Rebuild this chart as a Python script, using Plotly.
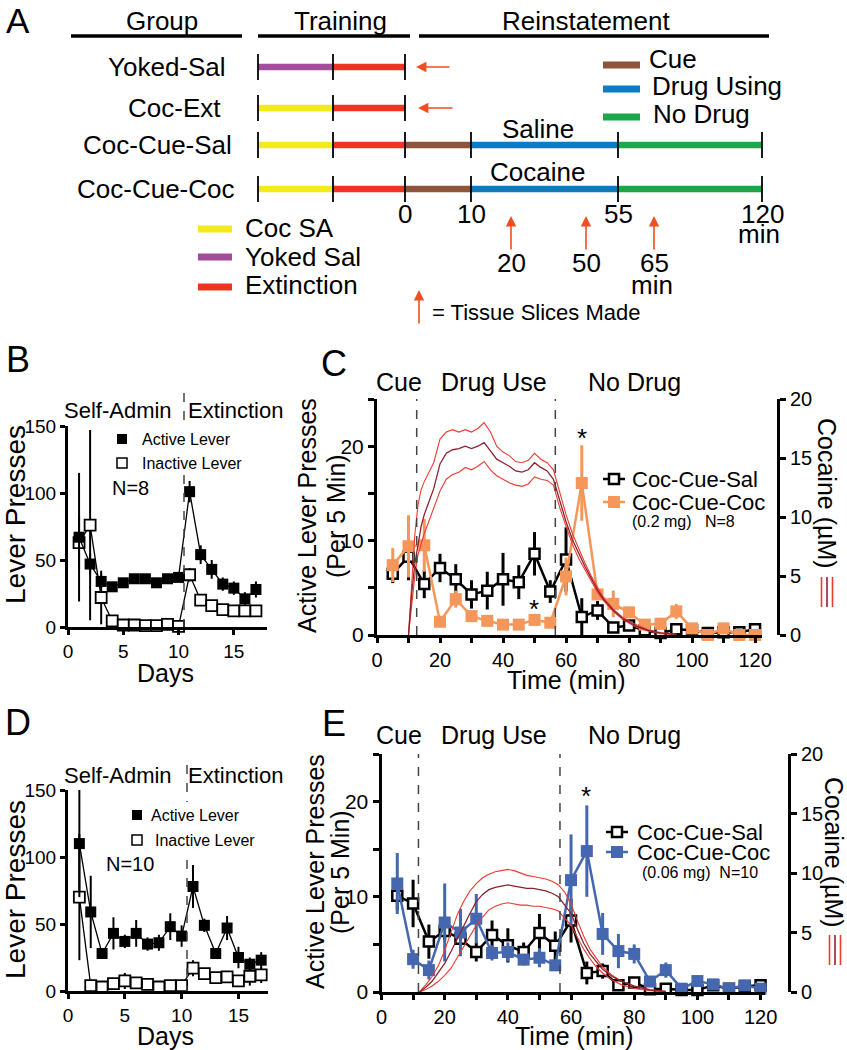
import plotly.graph_objects as go

W, H = 847, 1050
FONT = "Liberation Sans, Arial, sans-serif"

# ---------------- Panel A (schematic) ----------------
A_groups = ["Yoked-Sal", "Coc-Ext", "Coc-Cue-Sal", "Coc-Cue-Coc"]
A_phases = [
    ["Yoked Sal", "Extinction"],
    ["Coc SA", "Extinction"],
    ["Coc SA", "Extinction", "Cue", "Drug Using", "No Drug"],
    ["Coc SA", "Extinction", "Cue", "Drug Using", "No Drug"],
]
A_phase_colors = {
    "Coc SA": "#F4E91B", "Yoked Sal": "#A24C9B", "Extinction": "#EE3524",
    "Cue": "#8E553A", "Drug Using": "#0A7CC1", "No Drug": "#1AA84B",
}
A_left_legend = ["Coc SA", "Yoked Sal", "Extinction"]
A_right_legend = ["Cue", "Drug Using", "No Drug"]
A_reinst_ticks = ["0", "10", "55", "120"]
A_slice_times = ["20", "50", "65"]
A_reinst_labels = ["Saline", "Cocaine"]

# ---------------- Panel B ----------------
B_days = list(range(1, 18))
B_active = [67, 47, 34, 30, 33, 36, 36, 33, 36, 37, 101, 54, 43, 32, 29, 21, 28]
B_active_err = [48, 8, 5, 3, 3, 3, 3, 3, 3, 3, 8, 7, 7, 5, 5, 5, 6]
B_inactive = [63, 76, 22, 4.5, 1.5, 1.5, 1, 1, 2, 0.5, 39, 20, 16, 13, 12, 12, 12]
B_inactive_err = [20, 71, 20, 2, 1, 1, 1, 1, 1, 0.5, 5, 4, 3, 2, 2, 2, 2]

# ---------------- Panel D ----------------
D_days = list(range(1, 18))
D_active = [110, 59, 28, 43, 37, 43, 35, 36, 48, 41, 78, 49, 28, 47, 25, 20, 23]
D_active_err = [40, 27, 4, 12, 5, 10, 5, 6, 10, 8, 16, 5, 4, 9, 8, 5, 6]
D_inactive = [70, 4, 3, 5.5, 7.5, 6, 5, 3, 4, 4, 17, 13, 10, 10.5, 7.5, 11, 12]
D_inactive_err = [47, 1, 1, 3, 6, 3, 2, 1, 1, 1, 6, 3, 2, 2, 3, 7, 6]

# ---------------- Panel C ----------------
C_time = [5, 10, 15, 20, 25, 30, 35, 40, 45, 50, 55, 60, 65, 70, 75, 80, 85, 90, 95, 100, 105, 110, 115, 120]
C_sal = [6.5, 8.3, 5.4, 7.1, 5.9, 4.3, 4.7, 5.9, 5.6, 8.6, 4.6, 8.0, 1.9, 2.6, 0.8, 1.0, 0.5, 0.2, 0.6, 0.5, 0.2, 0.3, 0.3, 0.6]
C_sal_err = [1.0, 2.5, 1.5, 1.5, 1.6, 1.5, 2.0, 2.8, 1.8, 2.3, 1.2, 3.4, 2.0, 1.0, 0.5, 0.5, 0.3, 0.3, 0.3, 0.2, 0.2, 0.2, 0.2, 0.2]
C_coc = [7.4, 9.4, 9.5, 1.4, 3.8, 2.0, 1.5, 1.1, 1.1, 1.6, 1.3, 6.2, 16.1, 4.3, 3.3, 2.4, 1.1, 1.2, 2.5, 0.7, 0.0, 0.7, 0.0, 0.0]
C_coc_err = [1.8, 3.3, 2.8, 0.4, 0.9, 0.4, 0.3, 0.3, 0.3, 0.3, 0.3, 2.0, 4.0, 0.6, 1.4, 0.6, 0.3, 0.5, 0.8, 0.3, 0.2, 0.4, 0.2, 0.2]
C_phase_bounds = [12.6, 56.6]
C_conc_t = [10, 11, 12, 13, 14, 15, 16, 18, 20, 22, 24, 26, 28, 30, 32, 34, 36, 38, 40, 42, 44,
            46, 48, 50, 52, 54, 56, 58, 60, 62, 64, 66, 68, 70, 72, 75, 78, 82, 86, 90, 95]
C_conc_mid = [0, 3.5, 6.0, 7.8, 9.2, 10.2, 10.9, 12.4, 14.5, 15.4, 15.7, 15.8, 16.0, 15.8, 16.0, 16.3, 15.6, 14.9, 14.6, 14.3, 13.9,
              13.8, 14.0, 14.6, 14.2, 13.9, 13.2, 11.3, 9.6, 8.1, 6.9, 5.8, 4.8, 3.8, 3.0, 2.1, 1.4, 0.8, 0.4, 0.15, 0.05]
C_conc_up = [0, 4.5, 8.5, 11.0, 12.3, 13.0, 13.5, 14.6, 16.6, 17.2, 17.4, 17.2, 17.4, 17.2, 17.5, 18.0, 17.2, 16.0, 15.5, 15.2, 14.7,
             14.6, 14.8, 15.4, 14.9, 14.6, 14.0, 12.0, 10.2, 8.6, 7.3, 6.1, 5.0, 4.0, 3.1, 2.2, 1.5, 0.9, 0.45, 0.2, 0.05]
C_conc_lo = [0, 2.5, 5.0, 6.8, 7.8, 8.6, 9.3, 10.8, 12.2, 13.2, 13.6, 13.8, 14.2, 14.0, 14.3, 14.7, 14.0, 13.5, 13.2, 12.9, 12.7,
             12.6, 12.8, 13.4, 13.2, 13.1, 12.7, 10.8, 9.2, 7.7, 6.5, 5.5, 4.5, 3.6, 2.9, 2.0, 1.3, 0.7, 0.35, 0.1, 0.05]

# ---------------- Panel E ----------------
E_time = [5, 10, 15, 20, 25, 30, 35, 40, 45, 50, 55, 60, 65, 70, 75, 80, 85, 90, 95, 100, 105, 110, 115, 120]
E_sal = [10.1, 9.3, 5.3, 6.4, 5.6, 4.2, 6.0, 4.9, 4.2, 6.2, 4.85, 7.5, 2.0, 2.2, 0.7, 1.0, 0.3, 0.35, 0.2, 0.2, 0.7, 0.35, 0.6, 0.7]
E_sal_err = [1.5, 2.5, 1.8, 1.0, 1.0, 1.0, 1.5, 1.8, 1.0, 2.0, 1.5, 2.3, 1.2, 0.8, 0.3, 0.3, 0.2, 0.2, 0.2, 0.2, 0.2, 0.2, 0.2, 0.2]
E_coc = [11.4, 3.45, 2.3, 7.3, 6.25, 7.7, 4.1, 4.2, 3.4, 3.6, 2.8, 11.75, 14.8, 6.1, 4.3, 4.0, 1.1, 2.3, 0.35, 1.15, 0.8, 0.35, 0.7, 0.35]
E_coc_err = [3.2, 1.0, 1.0, 4.1, 2.5, 2.6, 0.8, 1.0, 0.6, 1.0, 0.5, 4.8, 4.8, 2.2, 1.8, 1.0, 0.4, 0.8, 0.2, 0.3, 0.3, 0.2, 0.3, 0.2]
E_phase_bounds = [11.7, 56.5]
E_conc_t = [12, 14, 16, 18, 20, 22, 24, 26, 28, 30, 32, 34, 36, 38, 40, 42, 44, 46, 48, 50, 52, 54, 56, 58, 60,
            62, 64, 66, 68, 70, 73, 76, 80, 85, 90]
E_conc_mid = [0, 0.4, 0.9, 1.6, 2.4, 3.4, 4.5, 5.6, 6.6, 7.6, 8.2, 8.6, 8.8, 8.9, 9.0, 8.9, 8.8, 8.7, 8.7, 8.6, 8.5, 8.3, 8.0, 7.3, 6.6,
              5.3, 4.1, 3.2, 2.5, 1.9, 1.3, 0.9, 0.5, 0.15, 0.05]
E_conc_up = [0, 0.6, 1.3, 2.2, 3.5, 5.0, 6.5, 7.6, 8.5, 9.1, 9.6, 9.9, 10.1, 10.2, 10.3, 10.2, 10.0, 9.8, 9.7, 9.6, 9.5, 9.3, 9.0, 8.4, 7.4,
             6.0, 4.7, 3.6, 2.8, 2.1, 1.4, 0.9, 0.5, 0.2, 0.05]
E_conc_lo = [0, 0.2, 0.5, 0.9, 1.4, 2.0, 2.9, 3.8, 4.7, 5.6, 6.3, 6.9, 7.2, 7.4, 7.5, 7.4, 7.3, 7.3, 7.2, 7.2, 7.1, 7.0, 6.8, 6.2, 5.6,
             4.6, 3.6, 2.8, 2.1, 1.6, 1.0, 0.6, 0.3, 0.1, 0.02]

ORANGE = "#F5965A"
BLUE = "#4467AF"
RED = "#EE3B30"
DARKRED = "#8B2232"
ARROW = "#F04E23"

fig = go.Figure()


def dx(a, b):
    return [a / W, b / W]


def dy(top, bottom):
    return [1 - bottom / H, 1 - top / H]


def axis(**kw):
    d = dict(showline=True, linewidth=3, linecolor="black", ticks="outside", ticklen=5,
             tickwidth=2.5, tickcolor="black", showgrid=False, zeroline=False, automargin=False,
             tickfont=dict(family=FONT, size=19, color="black"), fixedrange=True)
    d.update(kw)
    return d


def every_other(vals, step):
    return [str(v) if v % step == 0 else "" for v in vals]


cx_ticks = list(range(0, 121, 10))
cy_ticks = [0, 5, 10, 15, 20, 25]

fig.update_layout(
    template="none",
    width=W, height=H, autosize=False,
    margin=dict(l=0, r=0, t=0, b=0, pad=0, autoexpand=False),
    paper_bgcolor="white", plot_bgcolor="rgba(0,0,0,0)",
    showlegend=False, hovermode=False,
    font=dict(family=FONT, color="black"),
    # B
    xaxis=axis(domain=dx(68, 267), range=[0, 18.0], tickvals=[0, 5, 10, 15], anchor="y"),
    yaxis=axis(domain=dy(426, 627), range=[0, 150], tickvals=[0, 50, 100, 150], anchor="x"),
    # D
    xaxis2=axis(domain=dx(68, 268), range=[0, 17.6], tickvals=[0, 5, 10, 15], anchor="y2"),
    yaxis2=axis(domain=dy(790, 991), range=[0, 150], tickvals=[0, 50, 100, 150], anchor="x2"),
    # C
    xaxis3=axis(domain=dx(377, 762), range=[0, 122.2], tickvals=cx_ticks,
                ticktext=every_other(cx_ticks, 20), anchor="y3", ticklen=5,
                tickfont=dict(family=FONT, size=20, color="black")),
    yaxis3=axis(domain=dy(399, 635), range=[0, 25], tickvals=cy_ticks,
                ticktext=every_other(cy_ticks, 10), anchor="x3", ticklen=6,
                tickfont=dict(family=FONT, size=21, color="black")),
    yaxis4=axis(overlaying="y3", side="right", anchor="free", position=778 / W,
                range=[0, 20], tickvals=[0, 5, 10, 15, 20], ticklen=6,
                tickfont=dict(family=FONT, size=20, color="black")),
    # E
    xaxis4=axis(domain=dx(381.5, 765), range=[0, 121.4], tickvals=cx_ticks,
                ticktext=every_other(cx_ticks, 20), anchor="y5", ticklen=5,
                tickfont=dict(family=FONT, size=20, color="black")),
    yaxis5=axis(domain=dy(754, 992), range=[0, 25], tickvals=cy_ticks,
                ticktext=every_other(cy_ticks, 10), anchor="x4", ticklen=6,
                tickfont=dict(family=FONT, size=21, color="black")),
    yaxis6=axis(overlaying="y5", side="right", anchor="free", position=789 / W,
                range=[0, 20], tickvals=[0, 5, 10, 15, 20], ticklen=6,
                tickfont=dict(family=FONT, size=20, color="black")),
    # pixel canvas for decorations
    xaxis5=dict(domain=[0, 1], range=[0, W], visible=False, fixedrange=True, anchor="y7",
                automargin=False, showgrid=False, zeroline=False),
    yaxis7=dict(domain=[0, 1], range=[H, 0], visible=False, fixedrange=True, anchor="x5",
                automargin=False, showgrid=False, zeroline=False),
)


def lever_traces(days, act, act_err, inact, inact_err, xa, ya):
    fig.add_trace(go.Scatter(
        x=days, y=inact, xaxis=xa, yaxis=ya, mode="lines+markers", cliponaxis=False,
        line=dict(color="black", width=1.3),
        marker=dict(symbol="square", size=11, color="white", line=dict(color="black", width=1.8)),
        error_y=dict(type="data", array=inact_err, width=0, thickness=2, color="black")))
    fig.add_trace(go.Scatter(
        x=days, y=act, xaxis=xa, yaxis=ya, mode="lines+markers", cliponaxis=False,
        line=dict(color="black", width=1.3),
        marker=dict(symbol="square", size=11, color="black"),
        error_y=dict(type="data", array=act_err, width=0, thickness=2, color="black")))


lever_traces(B_days, B_active, B_active_err, B_inactive, B_inactive_err, "x", "y")
lever_traces(D_days, D_active, D_active_err, D_inactive, D_inactive_err, "x2", "y2")


def reinst_traces(t, sal, sal_err, coc, coc_err, ct, cmid, cup, clo, col, xa, ya, ya2):
    for arr, c, w in ((clo, RED, 1.1), (cup, RED, 1.1), (cmid, DARKRED, 1.3)):
        fig.add_trace(go.Scatter(x=ct, y=arr, xaxis=xa, yaxis=ya2, mode="lines",
                                 line=dict(color=c, width=w), hoverinfo="skip"))
    fig.add_trace(go.Scatter(
        x=t, y=sal, xaxis=xa, yaxis=ya, mode="lines+markers", cliponaxis=False,
        line=dict(color="black", width=2.5),
        marker=dict(symbol="square", size=10, color="white", line=dict(color="black", width=2.5)),
        error_y=dict(type="data", array=sal_err, width=0, thickness=3, color="black")))
    fig.add_trace(go.Scatter(
        x=t, y=coc, xaxis=xa, yaxis=ya, mode="lines+markers", cliponaxis=False,
        line=dict(color=col, width=2.5),
        marker=dict(symbol="square", size=12, color=col),
        error_y=dict(type="data", array=coc_err, width=0, thickness=3, color=col)))


reinst_traces(C_time, C_sal, C_sal_err, C_coc, C_coc_err, C_conc_t, C_conc_mid, C_conc_up,
              C_conc_lo, ORANGE, "x3", "y3", "y4")
reinst_traces(E_time, E_sal, E_sal_err, E_coc, E_coc_err, E_conc_t, E_conc_mid, E_conc_up,
              E_conc_lo, BLUE, "x4", "y5", "y6")

# phase dashed lines for C and E
for xb in C_phase_bounds:
    fig.add_shape(type="line", xref="x3", yref="y3", x0=xb, x1=xb, y0=0, y1=25,
                  line=dict(color="#444", width=1.5, dash="dash"))
for xb in E_phase_bounds:
    fig.add_shape(type="line", xref="x4", yref="y5", x0=xb, x1=xb, y0=0, y1=25,
                  line=dict(color="#444", width=1.5, dash="dash"))

# B / D dashed lines (pixel canvas, with a gap behind the legend)
for x0, segs in ((184, [(393, 420), (475, 627)]), (187, [(765, 802), (860, 991)])):
    for a, b in segs:
        fig.add_shape(type="line", xref="x5", yref="y7", x0=x0, x1=x0, y0=a, y1=b,
                      line=dict(color="#444", width=1.5, dash="dash"))


def T(text, x, y, size, xa="center", ya="middle", angle=0, color="black", pad=1):
    fig.add_annotation(text=text, x=x, y=y, xref="x5", yref="y7", showarrow=False,
                       xanchor=xa, yanchor=ya, textangle=angle, borderpad=pad,
                       font=dict(family=FONT, size=size, color=color))


def arrow(hx, hy, tx, ty):
    fig.add_annotation(text="", x=hx, y=hy, ax=tx, ay=ty, xref="x5", yref="y7",
                       axref="x5", ayref="y7", showarrow=True, arrowhead=2,
                       arrowsize=1.3, arrowwidth=1.6, arrowcolor=ARROW, standoff=0)


def seg(x0, x1, y, color, width):
    fig.add_shape(type="line", xref="x5", yref="y7", x0=x0, x1=x1, y0=y, y1=y,
                  line=dict(color=color, width=width))


def vseg(x, y0, y1, color="black", width=2):
    fig.add_shape(type="line", xref="x5", yref="y7", x0=x, x1=x, y0=y0, y1=y1,
                  line=dict(color=color, width=width))


# ---------------- Panel A drawing ----------------
T("A", 18, 0, 35, ya="top", pad=0)
for txt, cx in zip(["Group", "Training", "Reinstatement"], [162, 340, 586]):
    T(txt, cx, 21, 26)
for a, b in ((71, 242), (258, 410), (419, 769)):
    seg(a, b, 36, "black", 3.5)

row_y = [67, 108, 145, 189]
row_label_right = [228, 223, 234, 237]
bounds_px = [258, 333, 405, 471, 618, 762]
for g, phases, yy, xr in zip(A_groups, A_phases, row_y, row_label_right):
    T(g, xr, yy, 26, xa="right")
    for i, ph in enumerate(phases):
        seg(bounds_px[i], bounds_px[i + 1], yy, A_phase_colors[ph], 6.5)
    for i in range(len(phases) + 1):
        vseg(bounds_px[i], yy - 13, yy + 13, "black", 1.8)

# red arrows for training-only groups
arrow(416, 67, 451, 67)
arrow(418, 108, 454, 108)

T(A_reinst_labels[0], 538, 129, 26)
T(A_reinst_labels[1], 537, 172, 26)

for lbl, bx in zip(A_reinst_ticks, bounds_px[2:]):
    T(lbl, bx, 214, 26)
T("min", 759, 234, 26)

slice_x = [511, 586, 654]
for lbl, sx in zip(A_slice_times, slice_x):
    arrow(sx, 216, sx, 251)
    T(lbl, sx, 263, 26)
T("min", 652, 285, 26)

arrow(419, 290, 419, 325)
T("= Tissue Slices Made", 430, 312, 22, xa="left")

for name, yy in zip(A_left_legend, [229, 257, 287]):
    seg(198, 232, yy, A_phase_colors[name], 7)
for name, ty in zip(A_left_legend, [228, 257, 285]):
    T(name, 243, ty, 26, xa="left")
for name, yy in zip(A_right_legend, [65, 89, 117]):
    seg(603, 640, yy, A_phase_colors[name], 7)
for name, tx, ty in zip(A_right_legend, [647, 650, 651], [59, 86, 114]):
    T(name, tx, ty, 26, xa="left")

# ---------------- Panel B / D labels ----------------
for lab, ly, sa_y, lx_sq, leg_y, n_txt, n_y, title_y, days_y, act_tx, inact_tx in (
        ("B", 359, 410, 122, (439, 463), "N=8", 488, 515, 673, 140, 140),
        ("D", 722, 775, 137, (815, 840), "N=10", 864, 890, 1036, 149, 153)):
    T(lab, 18, ly, 36)
    T("Self-Admin", 118, sa_y, 22)
    T("Extinction", 235, sa_y, 22)
    fig.add_trace(go.Scatter(x=[lx_sq], y=[leg_y[0]], xaxis="x5", yaxis="y7", mode="markers",
                             marker=dict(symbol="square", size=10, color="black")))
    fig.add_trace(go.Scatter(x=[lx_sq], y=[leg_y[1]], xaxis="x5", yaxis="y7", mode="markers",
                             marker=dict(symbol="square", size=10, color="white",
                                         line=dict(color="black", width=1.5))))
    T("Active Lever", act_tx, leg_y[0], 16, xa="left")
    T("Inactive Lever", inact_tx, leg_y[1], 16, xa="left")
    T(n_txt, 130, n_y, 20)
    T("Lever Presses", 15, title_y, 28, angle=-90)
    T("Days", 165, days_y, 25, pad=0)

# ---------------- Panel C / E labels ----------------
for (lab, ly, head_y, t1x, t2x, tit_y, time_y, time_x, coc_x, coc_y, bars_x, bars_y,
     leg_x0, leg_y, col, sub) in (
        ("C", 363, 382, 307, 336, 516, 680, 566, 827, 493, 827, (577, 607),
         603, (479, 502, 521), ORANGE, "(0.2 mg)   N=8"),
        ("E", 723, 735, 315, 340, 872, 1036, 574, 834, 852, 835, (935, 965),
         606, (832, 852, 872), BLUE, "(0.06 mg)  N=10")):
    T(lab, 334, ly, 36)
    T("Cue", 399, head_y, 25)
    T("Drug Use", 494, head_y, 25)
    T("No Drug", 634, head_y, 25)
    T("Active Lever Presses", t1x, tit_y, 25, angle=-90)
    T("(Per 5 Min)", t2x, tit_y, 25, angle=-90)
    T("Time (min)", time_x, time_y, 25, pad=0)
    T("Cocaine (µM)", coc_x, coc_y, 25, angle=90)
    for dxp, c in ((-5.5, RED), (0, DARKRED), (5.5, RED)):
        vseg(bars_x + dxp, bars_y[0], bars_y[1], c, 1.6)
    # legend
    fig.add_trace(go.Scatter(x=[leg_x0, leg_x0 + 22], y=[leg_y[0], leg_y[0]], xaxis="x5", yaxis="y7",
                             mode="lines", line=dict(color="black", width=2.5)))
    fig.add_trace(go.Scatter(x=[leg_x0 + 11], y=[leg_y[0]], xaxis="x5", yaxis="y7", mode="markers",
                             marker=dict(symbol="square", size=10, color="white",
                                         line=dict(color="black", width=2.5))))
    fig.add_trace(go.Scatter(x=[leg_x0, leg_x0 + 22], y=[leg_y[1], leg_y[1]], xaxis="x5", yaxis="y7",
                             mode="lines", line=dict(color=col, width=2.5)))
    fig.add_trace(go.Scatter(x=[leg_x0 + 11], y=[leg_y[1]], xaxis="x5", yaxis="y7", mode="markers",
                             marker=dict(symbol="square", size=12, color=col)))
    T("Coc-Cue-Sal", leg_x0 + 27 if lab == "C" else leg_x0 + 29, leg_y[0], 22, xa="left")
    T("Coc-Cue-Coc", leg_x0 + 27 if lab == "C" else leg_x0 + 29, leg_y[1], 22, xa="left")
    T(sub, leg_x0 + 27 if lab == "C" else leg_x0 + 34, leg_y[2], 16, xa="left")

# significance asterisks
T("*", 582, 438, 26)
T("*", 534, 609, 26)
T("*", 586, 796, 26)

fig.write_html("out.html", config={"displayModeBar": False},
               post_script="document.body.style.margin='0px';document.body.style.padding='0px';"
                           "document.body.style.overflow='hidden';")
